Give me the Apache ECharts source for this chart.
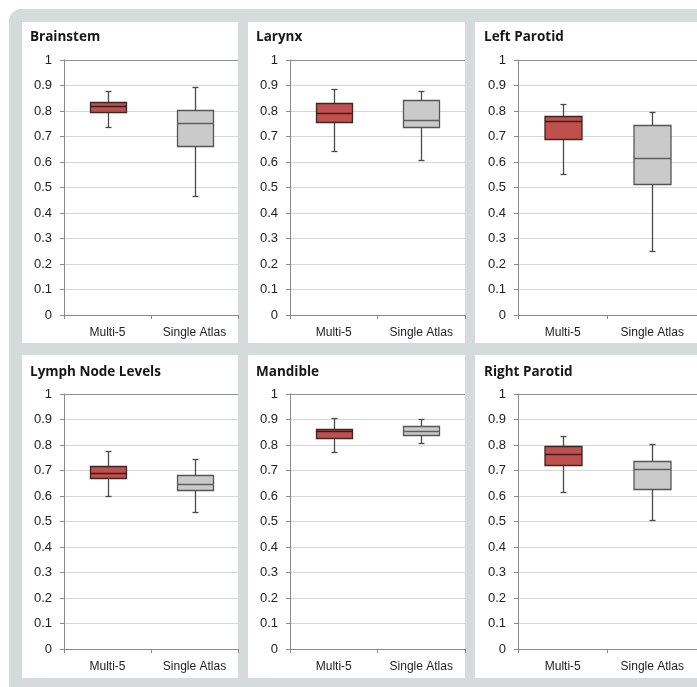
<!DOCTYPE html>
<html>
<head>
<meta charset="utf-8">
<script src="https://cdn.jsdelivr.net/npm/echarts@6/dist/echarts.min.js"></script>
<style>
  html, body { margin: 0; padding: 0; background: #ffffff; }
  #wrap { position: relative; width: 697px; height: 687px; overflow: hidden; }
  #frame { position: absolute; left: 9px; top: 9px; width: 720px; height: 720px;
           background: #d7dada; border-radius: 12px; }
  .panel { position: absolute; background: #ffffff; }
  #chart { position: absolute; left: 0; top: 0; width: 697px; height: 687px; }
</style>
</head>
<body>
<div id="wrap">
  <div id="frame"></div>
  <div class="panel" style="left:22px;top:22px;width:216px;height:321px"></div>
  <div class="panel" style="left:248px;top:22px;width:217px;height:321px"></div>
  <div class="panel" style="left:475px;top:22px;width:230px;height:321px"></div>
  <div class="panel" style="left:22px;top:355px;width:216px;height:323px"></div>
  <div class="panel" style="left:248px;top:355px;width:217px;height:323px"></div>
  <div class="panel" style="left:475px;top:355px;width:230px;height:323px"></div>
  <div id="chart"></div>
</div>
<script>
// Dice similarity per structure: [min, Q1, median, Q3, max]
const categories = ['Multi-5', 'Single Atlas'];
const organs = ['Brainstem', 'Larynx', 'Left Parotid', 'Lymph Node Levels', 'Mandible', 'Right Parotid'];
const multi5Boxes = [
  [0.738, 0.795, 0.820, 0.834, 0.880],
  [0.642, 0.756, 0.793, 0.830, 0.885],
  [0.553, 0.689, 0.762, 0.782, 0.826],
  [0.600, 0.669, 0.692, 0.719, 0.775],
  [0.774, 0.827, 0.855, 0.863, 0.906],
  [0.617, 0.722, 0.764, 0.795, 0.835]
];
const singleAtlasBoxes = [
  [0.467, 0.663, 0.754, 0.803, 0.894],
  [0.609, 0.736, 0.765, 0.842, 0.877],
  [0.251, 0.514, 0.616, 0.746, 0.797],
  [0.538, 0.622, 0.648, 0.681, 0.746],
  [0.808, 0.839, 0.856, 0.875, 0.901],
  [0.505, 0.628, 0.705, 0.739, 0.802]
];
const yTicks = [0, 0.1, 0.2, 0.3, 0.4, 0.5, 0.6, 0.7, 0.8, 0.9, 1];

// panel layout (pixels)
const colLeft = [64, 290, 518];
const colWidth = [174, 175, 179];
const rowTop = [60, 394];
const plotHeight = 255;
const titleLeft = [30, 256, 484];
const titleTop = [30, 365];

const boxStyles = [
  { fill: '#c0504d', stroke: '#3d2626', median: '#3a1d1d' },
  { fill: '#cbcaca', stroke: '#555555', median: '#5f5f5f' }
];
const whiskerColor = '#4a4a4a';

function renderBox(params, api) {
  const idx = api.value(0);
  const cx = Math.round(api.coord([idx, 0])[0]) + 0.5;
  const y = (v) => Math.round(api.coord([idx, v])[1]) + 0.5;
  const yMin = y(api.value(1)), yQ1 = y(api.value(2)), yMed = y(api.value(3));
  const yQ3 = y(api.value(4)), yMax = y(api.value(5));
  const bw = Math.round(api.size([1, 0])[0] * 0.41);
  const half = bw / 2;
  const cap = 3;
  const s = boxStyles[idx];
  const lw = 1.3;
  return {
    type: 'group',
    children: [
      { type: 'line', shape: { x1: cx, y1: yMax, x2: cx, y2: yQ3 }, style: { stroke: whiskerColor, lineWidth: lw } },
      { type: 'line', shape: { x1: cx, y1: yQ1, x2: cx, y2: yMin }, style: { stroke: whiskerColor, lineWidth: lw } },
      { type: 'line', shape: { x1: cx - cap, y1: yMax, x2: cx + cap, y2: yMax }, style: { stroke: whiskerColor, lineWidth: lw } },
      { type: 'line', shape: { x1: cx - cap, y1: yMin, x2: cx + cap, y2: yMin }, style: { stroke: whiskerColor, lineWidth: lw } },
      { type: 'rect', shape: { x: cx - half, y: yQ3, width: bw, height: yQ1 - yQ3 },
        style: { fill: s.fill, stroke: s.stroke, lineWidth: lw } },
      { type: 'line', shape: { x1: cx - half, y1: yMed, x2: cx + half, y2: yMed },
        style: { stroke: s.median, lineWidth: lw } }
    ]
  };
}

const gridLineColors = yTicks.map((t, i) => (i === yTicks.length - 1 ? '#8f8f8f' : '#d6d6d6'));

const titles = [], grids = [], xAxes = [], yAxes = [], series = [];
organs.forEach((name, i) => {
  const row = Math.floor(i / 3), col = i % 3;
  titles.push({
    text: name, left: titleLeft[col], top: titleTop[row], padding: 0,
    textStyle: { fontFamily: 'Open Sans', fontWeight: 'bold', fontSize: 13.5, color: '#161616' }
  });
  grids.push({ left: colLeft[col], top: rowTop[row], width: colWidth[col], height: plotHeight, containLabel: false });
  xAxes.push({
    type: 'category', gridIndex: i, data: categories,
    axisLine: { lineStyle: { color: '#8a8a8a', width: 1 } },
    axisTick: { show: true, length: 4, lineStyle: { color: '#8a8a8a' } },
    axisLabel: { margin: 12, fontFamily: 'Liberation Sans', fontSize: 12, color: '#222222' },
    splitLine: { show: false }
  });
  yAxes.push({
    type: 'value', gridIndex: i, min: 0, max: 1, interval: 0.1,
    axisLine: { show: true, lineStyle: { color: '#8a8a8a', width: 1 } },
    axisTick: { show: true, length: 4, lineStyle: { color: '#8a8a8a' } },
    axisLabel: { margin: 12, fontFamily: 'Liberation Sans', fontSize: 13, color: '#222222',
                 formatter: (v) => String(+v.toFixed(1)) },
    splitLine: { show: true, lineStyle: { color: gridLineColors, width: 1 } }
  });
  series.push({
    type: 'custom', xAxisIndex: i, yAxisIndex: i,
    renderItem: renderBox,
    encode: { x: 0, y: [1, 2, 3, 4, 5] },
    data: [[0].concat(multi5Boxes[i]), [1].concat(singleAtlasBoxes[i])],
    silent: true
  });
});

const chart = echarts.init(document.getElementById('chart'), null, { renderer: 'canvas' });
chart.setOption({
  backgroundColor: 'transparent',
  animation: false,
  title: titles,
  grid: grids,
  xAxis: xAxes,
  yAxis: yAxes,
  series: series
});
</script>
</body>
</html>
